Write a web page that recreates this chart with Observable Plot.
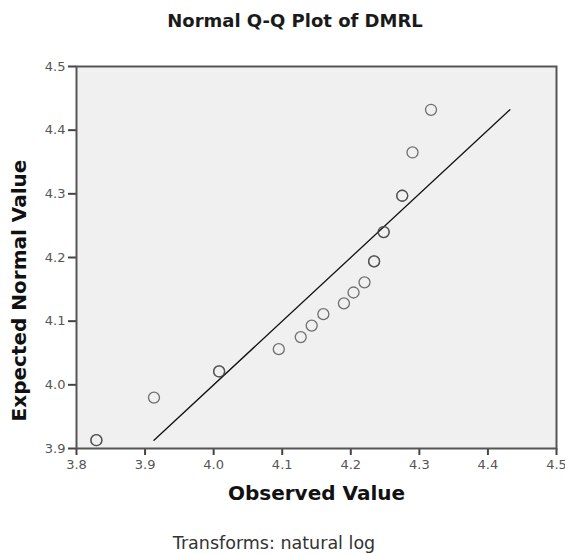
<!DOCTYPE html>
<html>
<head>
<meta charset="utf-8">
<script src="https://cdn.jsdelivr.net/npm/d3@7"></script>
<script src="https://cdn.jsdelivr.net/npm/@observablehq/plot@0.6"></script>
<style>
  body { margin: 0; background: #fff; font-family: "DejaVu Sans", sans-serif; }
  #wrap { position: relative; width: 565px; height: 554px; overflow: hidden; }
  #title { position: absolute; left: 295px; top: 12px; transform: translateX(-50%);
           font-size: 18px; line-height: 18px; font-weight: bold; color: #1a1a1a; white-space: nowrap; }
  #chart { position: absolute; left: 0; top: 40px; }
  #caption { position: absolute; left: 274px; top: 534px; transform: translateX(-50%);
             font-size: 17.5px; line-height: 18px; color: #333; white-space: nowrap; }
</style>
</head>
<body>
<div id="wrap">
  <div id="title"></div>
  <div id="chart"></div>
  <div id="caption"></div>
</div>
<script>
// Text
const titleText = "Normal Q-Q Plot of DMRL";
const captionText = "Transforms: natural log";
const xLabel = "Observed Value";
const yLabel = "Expected Normal Value";

// Tick values
const xTicks = [3.8, 3.9, 4.0, 4.1, 4.2, 4.3, 4.4, 4.5];
const yTicks = [3.9, 4.0, 4.1, 4.2, 4.3, 4.4, 4.5];

// ln(DMRL) observations and their expected normal values (tied values repeat)
const observed = [3.829, 3.829, 3.913, 4.008, 4.008, 4.095, 4.127, 4.143, 4.160, 4.190,
                  4.204, 4.220, 4.234, 4.234, 4.248, 4.248, 4.275, 4.275, 4.290, 4.317];
const expected = [3.913, 3.913, 3.980, 4.021, 4.021, 4.056, 4.075, 4.093, 4.111, 4.128,
                  4.145, 4.161, 4.194, 4.194, 4.240, 4.240, 4.297, 4.297, 4.365, 4.432];

const points = observed.map((x, i) => ({x, y: expected[i]}));

// Reference line y = x across the range of expected values
const [lo, hi] = d3.extent(expected);
const refLine = [{x: lo, y: lo}, {x: hi, y: hi}];

document.getElementById("title").textContent = titleText;
document.getElementById("caption").textContent = captionText;

const chart = Plot.plot({
  width: 565,
  height: 475,
  marginTop: 26,
  marginLeft: 76,
  marginRight: 9,
  marginBottom: 67,
  style: { fontFamily: "DejaVu Sans, sans-serif", fontSize: "13px", color: "#555", background: "transparent" },
  x: { domain: [3.8, 4.5] },
  y: { domain: [3.9, 4.5] },
  marks: [
    Plot.frame({ fill: "#f0f0f0", stroke: "none" }),
    Plot.axisX({ ticks: xTicks, tickFormat: d3.format(".1f"), tickSize: 7, tickPadding: 4,
                 stroke: "#444", strokeWidth: 2, label: null }),
    Plot.axisY({ ticks: yTicks, tickFormat: d3.format(".1f"), tickSize: 8, tickPadding: 3,
                 stroke: "#444", strokeWidth: 2, label: null }),
    Plot.line(refLine, { x: "x", y: "y", stroke: "#111", strokeWidth: 1.3 }),
    Plot.dot(points, { x: "x", y: "y", r: 5.5, stroke: "#444", strokeWidth: 1.3, strokeOpacity: 0.75 }),
    Plot.frame({ stroke: "#555", strokeWidth: 2 }),
    Plot.text([yLabel], { text: d => d, frameAnchor: "left", dx: -57, dy: 33, rotate: -90,
                          textAnchor: "middle", lineAnchor: "middle",
                          fontSize: 20, fontWeight: "bold", fill: "#111" }),
    Plot.text([xLabel], { text: d => d, frameAnchor: "bottom", dy: 45,
                          textAnchor: "middle", lineAnchor: "middle",
                          fontSize: 20, fontWeight: "bold", fill: "#111" })
  ]
});

document.getElementById("chart").appendChild(chart);
</script>
</body>
</html>
